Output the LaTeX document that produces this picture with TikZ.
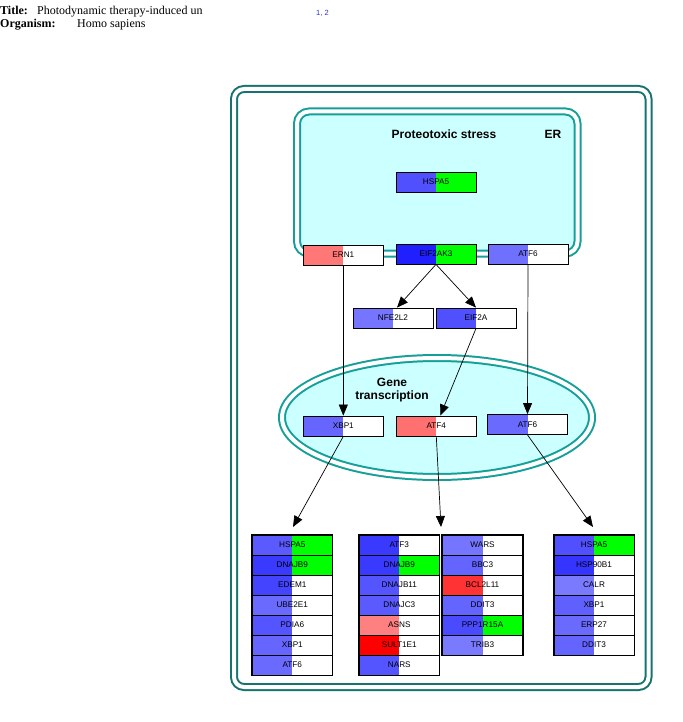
\documentclass[tikz,border=0pt]{standalone}
\usepackage{fontspec}
\setmainfont{Liberation Serif}
\setsansfont{Liberation Sans}
\usetikzlibrary{arrows.meta}
\definecolor{frameouter}{HTML}{16736E}
\definecolor{framecomp}{HTML}{14A098}
\definecolor{compfill}{HTML}{CCFFFF}
\definecolor{gr}{HTML}{00FF00}
\definecolor{B20}{HTML}{2020FF}
\definecolor{B35}{HTML}{3535FF}
\definecolor{B3A}{HTML}{3A3AFF}
\definecolor{B44}{HTML}{4444FF}
\definecolor{B4A}{HTML}{4A4AFF}
\definecolor{B50}{HTML}{5050FF}
\definecolor{B55}{HTML}{5555FF}
\definecolor{B5A}{HTML}{5A5AFF}
\definecolor{B60}{HTML}{6060FF}
\definecolor{B64}{HTML}{6464FF}
\definecolor{B66}{HTML}{6666FF}
\definecolor{B6A}{HTML}{6A6AFF}
\definecolor{B70}{HTML}{7070FF}
\definecolor{B75}{HTML}{7575FF}
\definecolor{B7A}{HTML}{7A7AFF}
\definecolor{R77}{HTML}{FF7777}
\definecolor{R70}{HTML}{FF7070}
\definecolor{R80}{HTML}{FF8080}
\definecolor{R00}{HTML}{FF0000}
\definecolor{R33}{HTML}{FF3333}
\definecolor{citeblue}{HTML}{3030CC}
\begin{document}
\begin{tikzpicture}[x=1pt,y=-1pt,
  gene/.style 2 args={draw=black, line width=0.8pt, minimum width=80pt, minimum height=20pt,
    inner sep=0pt, font=\sffamily\fontsize{8.2}{9}\selectfont,
    path picture={\fill[#1] (path picture bounding box.south west) rectangle (path picture bounding box.north);
                  \fill[#2] (path picture bounding box.north) rectangle (path picture bounding box.south east);}},
  listframe/.style={draw=black, line width=1.5pt},
  conn/.style={draw=black, line width=0.7pt},
  arr/.style={conn, -{Triangle[length=11pt,width=9pt]}},
  complabel/.style={font=\sffamily\bfseries\fontsize{12}{13}\selectfont, align=center, inner sep=0pt},
  hdr/.style={anchor=base west, inner sep=0pt, font=\fontsize{12}{14}\selectfont},
  ]
\useasboundingbox (0,0) rectangle (682,722);

% header
\node[hdr] (tlab) at (0,15) {\textbf{Title:}};
\node[hdr] (ttext) at (37,15) {Photodynamic therapy-induced un};
\node[hdr] (olab) at (0,28) {\textbf{Organism:}};
\node[hdr] (otext) at (77,28) {Homo sapiens};
\node[anchor=base west, inner sep=0pt, text=citeblue, font=\sffamily\fontsize{7.5}{9}\selectfont] (cite) at (316,16) {1, 2};

% outer frame
\draw[draw=frameouter, double=white, line width=2pt, double distance=4pt, rounded corners=10pt]
  (234,89) rectangle (648.5,687);

% ER compartment
\draw[draw=framecomp, double=white, line width=2pt, double distance=4pt, fill=compfill, rounded corners=12pt]
  (297,111.5) rectangle (577.5,253.5);
\node[complabel] (proteo) at (444,134) {Proteotoxic stress};
\node[complabel] (erlab) at (553,134) {ER};

% nucleus
\draw[draw=framecomp, double=white, line width=2pt, double distance=4pt, fill=compfill]
  (437,417.5) ellipse [x radius=155pt, y radius=59.5pt];
\node[complabel] (genetr) at (392,390.5) {Gene\\transcription};

% genes
\node[gene={B50}{gr}] (hspa5er) at (436,182) {HSPA5};
\node[gene={R77}{white}] (ern1) at (343.3,255) {ERN1};
\node[gene={B20}{gr}] (eif2ak3) at (436,254) {EIF2AK3};
\node[gene={B70}{white}] (atf6er) at (528,254) {ATF6};
\node[gene={B75}{white}] (nfe2l2) at (393,318) {NFE2L2};
\node[gene={B50}{white}] (eif2a) at (476,318) {EIF2A};
\node[gene={B66}{white}] (xbp1) at (343.3,426) {XBP1};
\node[gene={R70}{white}] (atf4) at (436.3,426) {ATF4};
\node[gene={B6A}{white}] (atf6n) at (527.5,424.5) {ATF6};

% connectors
\coordinate (t1) at (293,527);
\coordinate (t2) at (441,527);
\coordinate (t3) at (593,527);
\draw[arr] (ern1.south) -- (xbp1.north);
\draw[arr] (atf6er.south) -- (atf6n.north);
\draw[arr] (eif2ak3.south) -- ([xshift=4pt]nfe2l2.north);
\draw[arr] (eif2ak3.south) -- (eif2a.north);
\draw[arr] (eif2a.south) -- ([xshift=4pt]atf4.north);
\draw[arr] (xbp1.south) -- (t1);
\draw[arr] (atf4.south) -- (t2);
\draw[arr] (atf6n.south) -- (t3);

% list 1
\node[gene={B5A}{gr}] (la1) at (292.3,545) {HSPA5};
\node[gene={B3A}{gr}] (la2) at (292.3,565) {DNAJB9};
\node[gene={B44}{white}] (la3) at (292.3,585) {EDEM1};
\node[gene={B6A}{white}] (la4) at (292.3,605) {UBE2E1};
\node[gene={B55}{white}] (la5) at (292.3,625) {PDIA6};
\node[gene={B66}{white}] (la6) at (292.3,645) {XBP1};
\node[gene={B6A}{white}] (la7) at (292.3,665) {ATF6};
\draw[listframe] (la1.north west) rectangle (la7.south east);

% list 2
\node[gene={B3A}{white}] (lb1) at (399.3,545) {ATF3};
\node[gene={B3A}{gr}] (lb2) at (399.3,565) {DNAJB9};
\node[gene={B55}{white}] (lb3) at (399.3,585) {DNAJB11};
\node[gene={B5A}{white}] (lb4) at (399.3,605) {DNAJC3};
\node[gene={R80}{white}] (lb5) at (399.3,625) {ASNS};
\node[gene={R00}{white}] (lb6) at (399.3,645) {SULT1E1};
\node[gene={B55}{white}] (lb7) at (399.3,665) {NARS};
\draw[listframe] (lb1.north west) rectangle (lb7.south east);

% list 3
\node[gene={B75}{white}] (lc1) at (482.5,545) {WARS};
\node[gene={B64}{white}] (lc2) at (482.5,565) {BBC3};
\node[gene={R33}{white}] (lc3) at (482.5,585) {BCL2L11};
\node[gene={B64}{white}] (lc4) at (482.5,605) {DDIT3};
\node[gene={B4A}{gr}] (lc5) at (482.5,625) {PPP1R15A};
\node[gene={B7A}{white}] (lc6) at (482.5,645) {TRIB3};
\draw[listframe] (lc1.north west) rectangle (lc6.south east);

% list 4
\node[gene={B50}{gr}] (ld1) at (594,545) {HSPA5};
\node[gene={B35}{white}] (ld2) at (594,565) {HSP90B1};
\node[gene={B7A}{white}] (ld3) at (594,585) {CALR};
\node[gene={B60}{white}] (ld4) at (594,605) {XBP1};
\node[gene={B6A}{white}] (ld5) at (594,625) {ERP27};
\node[gene={B64}{white}] (ld6) at (594,645) {DDIT3};
\draw[listframe] (ld1.north west) rectangle (ld6.south east);
\end{tikzpicture}
\end{document}
